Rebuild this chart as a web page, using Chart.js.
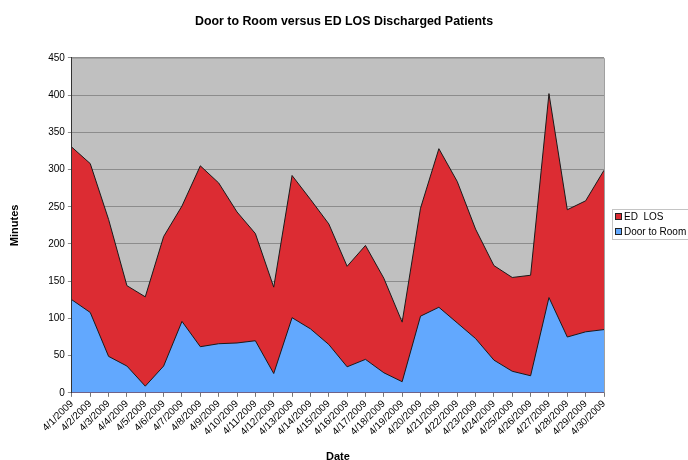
<!DOCTYPE html>
<html>
<head>
<meta charset="utf-8">
<script src="https://cdn.jsdelivr.net/npm/chart.js@4/dist/chart.umd.min.js"></script>
<style>
html,body{margin:0;padding:0;background:#fff;}
#wrap{width:688px;height:460px;position:relative;}
</style>
</head>
<body>
<div id="wrap"><canvas id="c" width="688" height="460"></canvas></div>
<script>
const dates = ["4/1/2009","4/2/2009","4/3/2009","4/4/2009","4/5/2009","4/6/2009","4/7/2009","4/8/2009","4/9/2009","4/10/2009",
  "4/11/2009","4/12/2009","4/13/2009","4/14/2009","4/15/2009","4/16/2009","4/17/2009","4/18/2009","4/19/2009","4/20/2009",
  "4/21/2009","4/22/2009","4/23/2009","4/24/2009","4/25/2009","4/26/2009","4/27/2009","4/28/2009","4/29/2009","4/30/2009"];
const edLos = [330,308,233,144,129,210,251,305,282,243,
  214,142,292,260,227,170,198,154,95,248,
  328,284,220,171,155,158,402,246,258,299];
const doorToRoom = [125,108,49,36,9,36,96,62,66,67,
  70,26,101,86,65,35,45,27,15,103,
  115,94,73,44,29,23,128,75,82,85];
const yTicks = [0,50,100,150,200,250,300,350,400,450];

const FONT = "'Liberation Sans', Arial, Helvetica, sans-serif";

const plotBg = {
  id: 'plotBg',
  afterLayout(chart) {
    const t = chart.titleBlock;
    if (t) { t.left = 0; t.right = chart.width; t.width = chart.width; }
  },
  beforeDraw(chart) {
    const {ctx, chartArea: a} = chart;
    ctx.save();
    ctx.fillStyle = '#c0c0c0';
    ctx.fillRect(a.left, a.top, a.right - a.left, a.bottom - a.top);
    ctx.restore();
  },
  afterDraw(chart) {
    const {ctx, chartArea: a} = chart;
    ctx.save();
    ctx.strokeStyle = '#a0a0a0';
    ctx.lineWidth = 1;
    ctx.beginPath();
    ctx.moveTo(a.left, a.top + 0.5);
    ctx.lineTo(a.right + 0.5, a.top + 0.5);
    ctx.lineTo(a.right + 0.5, a.bottom);
    ctx.stroke();
    ctx.restore();
  }
};

const boxLegend = {
  id: 'boxLegend',
  afterDraw(chart) {
    const {ctx, chartArea: a} = chart;
    const items = chart.data.datasets.map(d => ({ text: d.label, color: d.backgroundColor }));
    const rowH = 14.5;
    const left = a.right + 8;
    const width = 78;
    const height = 31;
    const top = Math.round((a.top + a.bottom) / 2 - height / 2) - 1;
    ctx.save();
    ctx.fillStyle = '#fff';
    ctx.fillRect(left, top, width, height);
    ctx.strokeStyle = '#c4c4c4';
    ctx.lineWidth = 1;
    ctx.strokeRect(left + 0.5, top + 0.5, width - 1, height - 1);
    ctx.font = '10px ' + FONT;
    ctx.textBaseline = 'middle';
    items.forEach((it, i) => {
      const cy = Math.round(top + 8 + rowH * i);
      ctx.fillStyle = it.color;
      ctx.fillRect(left + 3.5, cy - 3.5, 6, 6);
      ctx.strokeStyle = '#222';
      ctx.strokeRect(left + 3.5, cy - 3.5, 6, 6);
      ctx.fillStyle = '#000';
      ctx.fillText(it.text, left + 12, cy);
    });
    ctx.restore();
  }
};

new Chart(document.getElementById('c'), {
  type: 'line',
  data: {
    labels: dates,
    datasets: [
      {
        label: 'ED  LOS',
        data: edLos,
        fill: 'origin',
        backgroundColor: '#dc2c33',
        borderColor: '#1a1a1a',
        borderWidth: 1,
        pointRadius: 0,
        tension: 0,
        order: 2
      },
      {
        label: 'Door to Room',
        data: doorToRoom,
        fill: 'origin',
        backgroundColor: '#62a8fe',
        borderColor: '#1a1a1a',
        borderWidth: 1,
        pointRadius: 0,
        tension: 0,
        order: 1
      }
    ]
  },
  options: {
    responsive: false,
    animation: false,
    layout: { padding: { left: 8, right: 84, top: 4, bottom: -4 } },
    plugins: {
      title: {
        display: true,
        text: 'Door to Room versus ED LOS Discharged Patients',
        color: '#000',
        font: { family: FONT, size: 12.4, weight: 'bold' },
        padding: { top: 10, bottom: 29 }
      },
      legend: { display: false },
      tooltip: { enabled: false }
    },
    scales: {
      x: {
        offset: false,
        grid: { drawOnChartArea: false, drawTicks: true, tickLength: 4, color: '#777' },
        border: { color: '#333', width: 1 },
        ticks: {
          autoSkip: false, maxRotation: 45, minRotation: 45,
          color: '#000', font: { family: FONT, size: 10 }, padding: 1
        },
        title: {
          display: true, text: 'Date', color: '#000',
          font: { family: FONT, size: 11, weight: 'bold' },
          padding: { top: 12, bottom: 0 }
        }
      },
      y: {
        min: 0, max: 450,
        afterBuildTicks(axis) { axis.ticks = yTicks.map(v => ({ value: v })); },
        grid: { color: '#8c8c8c', tickLength: 4, drawTicks: true },
        border: { color: '#333', width: 1 },
        ticks: { color: '#000', font: { family: FONT, size: 10 }, padding: 3 },
        title: {
          display: true, text: 'Minutes', color: '#000',
          font: { family: FONT, size: 11, weight: 'bold' },
          padding: { top: 0, bottom: 24 }
        }
      }
    }
  },
  plugins: [plotBg, boxLegend]
});
</script>
</body>
</html>
